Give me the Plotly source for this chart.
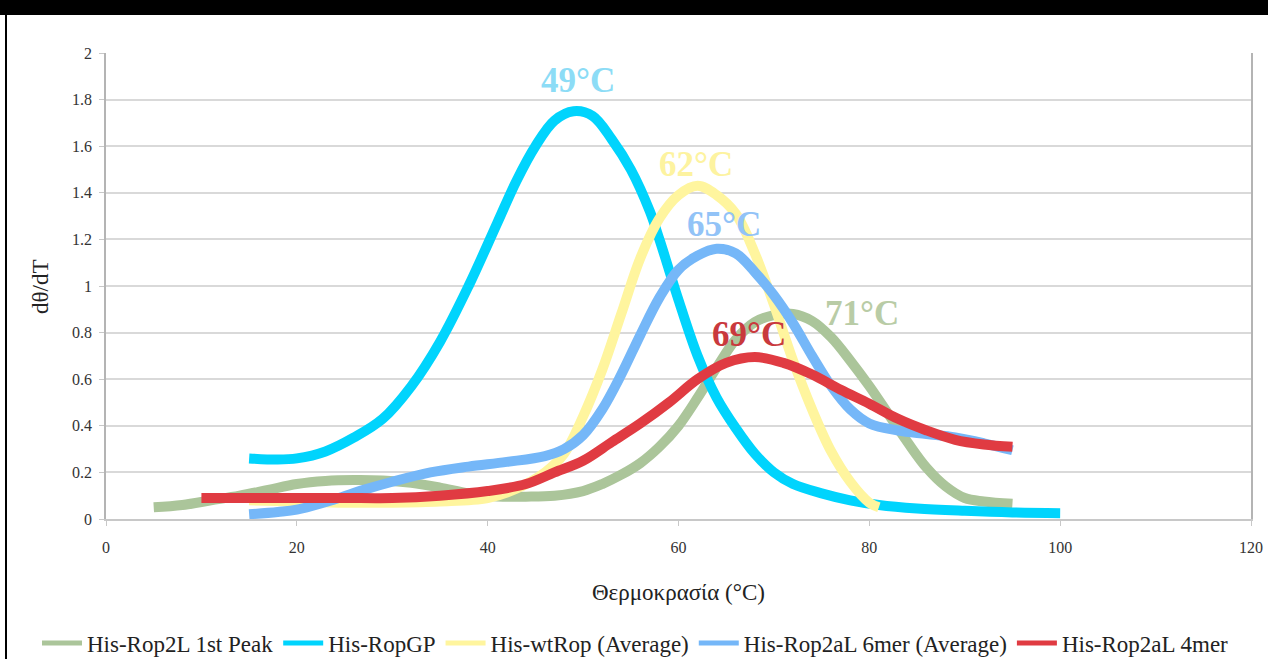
import plotly.graph_objects as go

# Melting-curve derivative data (dθ/dT vs temperature, °C)
rop2l_x = [5, 8, 11, 14, 17, 20, 23, 26, 29, 32, 35, 38, 41, 44, 47, 50, 52, 54, 56, 58, 60, 62,
           64, 66, 68, 70, 72, 74, 76, 78, 80, 82, 84, 86, 88, 90, 92, 95]
rop2l_y = [0.05, 0.06, 0.08, 0.10, 0.125, 0.15, 0.163, 0.167, 0.165, 0.155, 0.135, 0.11, 0.097,
           0.096, 0.10, 0.12, 0.15, 0.19, 0.24, 0.31, 0.40, 0.52, 0.65, 0.77, 0.845, 0.875, 0.88,
           0.85, 0.78, 0.68, 0.57, 0.45, 0.33, 0.22, 0.14, 0.09, 0.075, 0.065]

ropgp_x = [15, 18, 20, 23, 26, 29, 32, 35, 38, 41, 43, 45, 47, 49, 51, 53, 55, 57, 58, 59, 60, 62,
           64, 66, 68, 70, 72, 75, 78, 81, 85, 90, 95, 100]
ropgp_y = [0.26, 0.255, 0.26, 0.29, 0.35, 0.43, 0.57, 0.76, 1.00, 1.27, 1.45, 1.60, 1.71, 1.75,
           1.73, 1.63, 1.50, 1.32, 1.20, 1.07, 0.94, 0.70, 0.52, 0.39, 0.28, 0.20, 0.15, 0.11,
           0.08, 0.06, 0.045, 0.035, 0.028, 0.025]

wtrop_x = [15, 20, 25, 30, 35, 40, 43, 46, 48, 50, 52, 54, 56, 58, 60, 62, 64, 66, 68, 70, 72, 74,
           76, 78, 80, 81]
wtrop_y = [0.08, 0.075, 0.07, 0.07, 0.075, 0.09, 0.13, 0.20, 0.28, 0.44, 0.64, 0.88, 1.12, 1.29,
           1.39, 1.43, 1.39, 1.31, 1.14, 0.92, 0.68, 0.47, 0.29, 0.16, 0.07, 0.05]

mer6_x = [15, 18, 20, 24, 27, 30, 34, 38, 42, 46, 48, 50, 52, 54, 56, 58, 60, 62, 64, 66, 68, 70,
          72, 74, 76, 78, 80, 83, 86, 89, 92, 95]
mer6_y = [0.02, 0.03, 0.04, 0.085, 0.125, 0.16, 0.20, 0.225, 0.245, 0.27, 0.30, 0.36, 0.47, 0.62,
          0.79, 0.95, 1.07, 1.13, 1.16, 1.14, 1.06, 0.96, 0.84, 0.70, 0.57, 0.47, 0.41, 0.38,
          0.365, 0.35, 0.325, 0.295]

mer4_x = [10, 15, 20, 25, 30, 35, 40, 44, 47, 50, 53, 56, 59, 62, 65, 68, 71, 74, 77, 80, 83, 86,
          89, 92, 95]
mer4_y = [0.09, 0.09, 0.09, 0.09, 0.09, 0.10, 0.12, 0.15, 0.20, 0.25, 0.33, 0.41, 0.50, 0.60,
          0.67, 0.695, 0.67, 0.62, 0.555, 0.495, 0.43, 0.38, 0.34, 0.32, 0.31]

series_names = ["His-Rop2L 1st Peak", "His-RopGP", "His-wtRop (Average)",
                "His-Rop2aL 6mer (Average)", "His-Rop2aL 4mer"]
series_colors = ["#abc59a", "#00d4fd", "#fff59e", "#75b7f8", "#e03b42"]

# Peak temperature labels
peak_texts = ["49°C", "62°C", "65°C", "71°C", "69°C"]
peak_x = [49.5, 61.8, 64.8, 79.2, 67.4]
peak_y = [1.884, 1.52, 1.266, 0.88, 0.794]
peak_colors = ["#8cdcf6", "#fdf3a0", "#92c3f7", "#b9cca6", "#c9393d"]

SERIF = "Liberation Serif, serif"

fig = go.Figure()
series = [(rop2l_x, rop2l_y), (ropgp_x, ropgp_y), (wtrop_x, wtrop_y),
          (mer6_x, mer6_y), (mer4_x, mer4_y)]
for (xs, ys), name, col in zip(series, series_names, series_colors):
    fig.add_trace(go.Scatter(
        x=xs, y=ys, name=name, mode="lines",
        line=dict(color=col, width=10, shape="spline", smoothing=1.0),
    ))

# Frame geometry (pixels)
W, H = 1268, 659
ML, MR, MT, MB = 106, 17, 53, 140
PW, PH = W - ML - MR, H - MT - MB

def px_x(p):
    return (p - ML) / PW

def px_y(p):
    return (H - MB - p) / PH

annotations = []
for t, x, y, c in zip(peak_texts, peak_x, peak_y, peak_colors):
    annotations.append(dict(x=x, y=y, xref="x", yref="y", text="<b>" + t + "</b>",
                            showarrow=False, xanchor="center", yanchor="middle",
                            font=dict(family=SERIF, size=35, color=c)))

annotations.append(dict(x=0.5, y=px_y(592), xref="paper", yref="paper",
                        xanchor="center", yanchor="middle",
                        text="Θερμοκρασία (°C)", showarrow=False,
                        font=dict(family=SERIF, size=23, color="#222222")))
annotations.append(dict(x=px_x(40), y=px_y(287), xref="paper", yref="paper",
                        xanchor="center", yanchor="middle",
                        text="dθ/dT", showarrow=False, textangle=-90,
                        font=dict(family=SERIF, size=23, color="#222222")))

# Black band along the top and a thin black rule on the left edge
shapes = [
    dict(type="rect", xref="paper", yref="paper", x0=px_x(0), x1=px_x(W),
         y0=px_y(15), y1=px_y(0), fillcolor="black", line=dict(width=0), layer="above"),
    dict(type="line", xref="paper", yref="paper", x0=px_x(6), x1=px_x(6),
         y0=px_y(15), y1=px_y(H), line=dict(color="black", width=2)),
]

fig.update_layout(
    width=W, height=H,
    margin=dict(l=ML, r=MR, t=MT, b=MB, autoexpand=False),
    paper_bgcolor="white", plot_bgcolor="white",
    showlegend=True,
    legend=dict(orientation="h", x=px_x(37), xanchor="left", y=px_y(643), yanchor="middle",
                font=dict(family=SERIF, size=23, color="#222222"),
                itemwidth=40, tracegroupgap=0, itemsizing="constant"),
    xaxis=dict(range=[0, 120], dtick=20, tick0=0, showgrid=False, zeroline=False,
               showline=True, linecolor="#c8c8c8", linewidth=1.5,
               ticks="outside", ticklen=5, tickcolor="#c8c8c8", ticklabelstandoff=8,
               tickfont=dict(family=SERIF, size=16, color="#333333")),
    yaxis=dict(range=[0, 2], dtick=0.2, tick0=0, showgrid=True, gridcolor="#d9d9d9",
               gridwidth=1.5, zeroline=False,
               showline=True, mirror=True, linecolor="#b4b4b4", linewidth=1.5,
               ticks="outside", ticklen=5, tickcolor="#c8c8c8", ticklabelstandoff=4,
               tickfont=dict(family=SERIF, size=16, color="#333333")),
    annotations=annotations,
    shapes=shapes,
)

fig.write_html("out.html")
